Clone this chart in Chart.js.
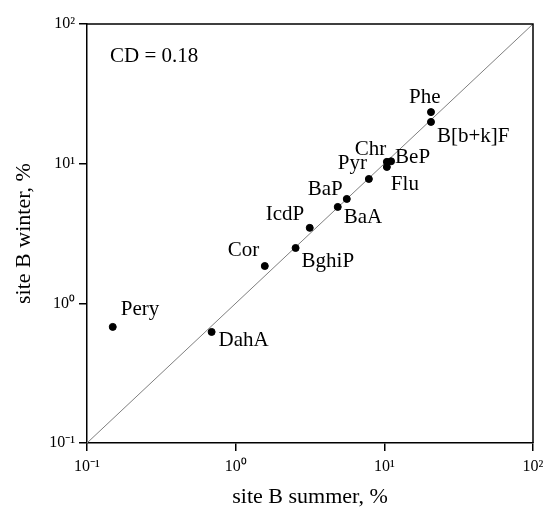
<!DOCTYPE html>
<html>
<head>
<meta charset="utf-8">
<script src="https://cdn.jsdelivr.net/npm/chart.js@4/dist/chart.umd.min.js"></script>
<style>
  html, body { margin: 0; padding: 0; background: #fff; }
  #wrap { width: 547px; height: 514px; }
</style>
</head>
<body>
<div id="wrap"><canvas id="c" width="547" height="514"></canvas></div>
<script>
// ---- data ----
const compounds = ['Phe', 'B[b+k]F', 'Chr', 'BeP', 'Flu', 'Pyr', 'BaP', 'BaA', 'IcdP', 'BghiP', 'Cor', 'Pery', 'DahA'];
const summerPct = [20.6, 20.6, 10.4, 11.1, 10.4, 7.87, 5.59, 4.86, 3.15, 2.53, 1.57, 0.149, 0.689];
const winterPct = [23.4, 19.9, 10.3, 10.4, 9.47, 7.77, 5.59, 4.90, 3.47, 2.49, 1.85, 0.678, 0.624];
const tickValues = [0.1, 1, 10, 100];
const tickLabels = ['10\u207B\u00B9', '10\u2070', '10\u00B9', '10\u00B2'];
const oneToOne = [0.1, 100];
const annotationText = 'CD = 0.18';
const xTitle = 'site B summer, %';
const yTitle = 'site B winter, %';

// label placement (pixel offsets from each point: dx to text left, dy to text middle)
const labelOffsets = {
  'Phe': [-22, -15], 'B[b+k]F': [6, 15], 'Chr': [-32, -12], 'BeP': [4, -4],
  'Flu': [4, 18], 'Pyr': [-31, -15], 'BaP': [-39, -9], 'BaA': [6, 11],
  'IcdP': [-44, -13], 'BghiP': [6, 13], 'Cor': [-37, -16], 'Pery': [8, -17], 'DahA': [7, 9]
};

const FONT = "'Liberation Serif', 'Times New Roman', serif";

const points = compounds.map((n, i) => ({ x: summerPct[i], y: winterPct[i] }));
const diag = oneToOne.map(v => ({ x: v, y: v }));

const framePlugin = {
  id: 'frame',
  afterDatasetsDraw(chart) {
    const { ctx, chartArea: a } = chart;
    ctx.save();
    ctx.strokeStyle = '#000';
    ctx.lineWidth = 1.5;
    ctx.beginPath();
    ctx.moveTo(a.left, a.top);
    ctx.lineTo(a.right, a.top);
    ctx.lineTo(a.right, a.bottom);
    ctx.stroke();
    // point labels
    const meta = chart.getDatasetMeta(0);
    ctx.fillStyle = '#000';
    ctx.font = '21px ' + FONT;
    ctx.textAlign = 'left';
    ctx.textBaseline = 'middle';
    meta.data.forEach((el, i) => {
      const off = labelOffsets[compounds[i]] || [5, 0];
      ctx.fillText(compounds[i], el.x + off[0], el.y + off[1]);
    });
    // annotation
    ctx.fillText(annotationText, a.left + 23, a.top + 32);
    ctx.restore();
  }
};

new Chart(document.getElementById('c'), {
  type: 'scatter',
  data: {
    datasets: [
      {
        label: 'compounds',
        data: points,
        backgroundColor: '#000',
        borderColor: '#000',
        pointRadius: 3.5,
        pointHoverRadius: 3.5,
        order: 0
      },
      {
        label: '1:1',
        type: 'line',
        data: diag,
        borderColor: '#7f7f7f',
        borderWidth: 1,
        pointRadius: 0,
        fill: false,
        order: 1
      }
    ]
  },
  options: {
    responsive: false,
    animation: false,
    events: [],
    layout: { padding: { top: 24, right: 14, left: 0, bottom: 0 } },
    plugins: { legend: { display: false }, tooltip: { enabled: false } },
    scales: {
      x: {
        type: 'logarithmic',
        min: 0.1, max: 100,
        afterBuildTicks: s => { s.ticks = tickValues.map(v => ({ value: v })); },
        afterFit: s => { s.height = 71; s.paddingRight = 0; s.paddingLeft = 0; },
        ticks: {
          color: '#000', font: { family: FONT, size: 16 }, padding: 6,
          maxRotation: 0, autoSkip: false,
          callback: (v) => tickLabels[tickValues.indexOf(v)] ?? ''
        },
        grid: { drawOnChartArea: false, drawTicks: true, tickLength: 8, color: '#000', lineWidth: 1.5 },
        border: { display: true, color: '#000', width: 1.5 },
        title: { display: true, text: xTitle, color: '#000', font: { family: FONT, size: 22 }, padding: { top: 0, bottom: 4 } }
      },
      y: {
        type: 'logarithmic',
        min: 0.1, max: 100,
        afterBuildTicks: s => { s.ticks = tickValues.map(v => ({ value: v })); },
        afterFit: s => { s.width = 87; s.paddingTop = 0; s.paddingBottom = 0; },
        ticks: {
          color: '#000', font: { family: FONT, size: 16 }, padding: 4,
          autoSkip: false,
          callback: (v) => tickLabels[tickValues.indexOf(v)] ?? ''
        },
        grid: { drawOnChartArea: false, drawTicks: true, tickLength: 8, color: '#000', lineWidth: 1.5 },
        border: { display: true, color: '#000', width: 1.5 },
        title: { display: true, text: yTitle, color: '#000', font: { family: FONT, size: 22 }, padding: { top: 11, bottom: 0 } }
      }
    }
  },
  plugins: [framePlugin]
});
</script>
</body>
</html>
